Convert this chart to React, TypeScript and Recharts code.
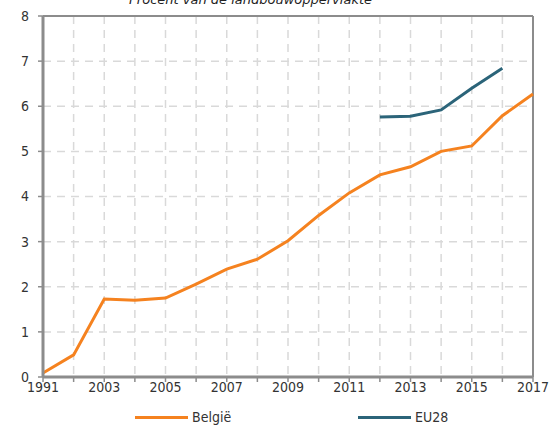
import { LineChart, Line, XAxis, YAxis, CartesianGrid, ReferenceLine, Legend } from "recharts";

const years = ["1991", "2002", "2003", "2004", "2005", "2006", "2007", "2008", "2009", "2010", "2011", "2012", "2013", "2014", "2015", "2016", "2017"];
const belgie = [0.09, 0.49, 1.73, 1.7, 1.75, 2.06, 2.39, 2.61, 3.02, 3.58, 4.08, 4.48, 4.66, 5.0, 5.12, 5.79, 6.27];
const eu28 = [null, null, null, null, null, null, null, null, null, null, null, 5.76, 5.78, 5.92, 6.4, 6.84, null];
const yTicks = [0, 1, 2, 3, 4, 5, 6, 7, 8];

const data = years.map((year, i) => ({ year, belgie: belgie[i], eu28: eu28[i] }));

const ORANGE = "#f5821f";
const TEAL = "#2b6479";
const AXIS = "#8c8c8c";
const FONT = "'DejaVu Sans Condensed', 'DejaVu Sans', sans-serif";

const legendItems = [
  { label: "België", color: ORANGE, x: 135 },
  { label: "EU28", color: TEAL, x: 358 },
];

const ChartLegend = () => (
  <div style={{ position: "relative", width: 550, height: 20 }}>
    {legendItems.map((item) => (
      <div key={item.label} style={{ position: "absolute", left: item.x, top: 0, display: "flex", alignItems: "center", height: 20 }}>
        <span style={{ display: "inline-block", width: 53, height: 3, background: item.color, marginRight: 4 }} />
        <span style={{ fontFamily: FONT, fontSize: 14, color: "#333" }}>{item.label}</span>
      </div>
    ))}
  </div>
);

const App = () => {
  return (
    <div style={{ position: "absolute", left: 0, top: 0, width: 550, height: 427, background: "#fff", overflow: "hidden" }}>
      <div
        style={{
          position: "absolute",
          top: -7,
          left: 129,
          fontFamily: "'DejaVu Sans', sans-serif",
          fontStyle: "italic",
          fontSize: 13,
          lineHeight: "14px",
          color: "#222",
          whiteSpace: "nowrap",
        }}
      >
        Procent van de landbouwoppervlakte
      </div>
      <LineChart width={550} height={427} data={data} margin={{ top: 16, right: 17, left: 0, bottom: 0 }}>
        <CartesianGrid stroke="#d9d9d9" strokeDasharray="8 6" strokeWidth={1.5} />
        <XAxis
          dataKey="year"
          interval={0}
          height={30}
          axisLine={{ stroke: AXIS, strokeWidth: 3 }}
          tickLine={{ stroke: AXIS, strokeWidth: 1.5 }}
          tickSize={5}
          tickMargin={0}
          tickFormatter={(v: string, i: number) => (i % 2 === 0 ? v : "")}
          tick={{ fill: "#333", fontSize: 14, fontFamily: FONT }}
        />
        <YAxis
          domain={[0, 8]}
          ticks={yTicks}
          width={43}
          axisLine={{ stroke: AXIS, strokeWidth: 3 }}
          tickLine={{ stroke: AXIS, strokeWidth: 1.5 }}
          tickSize={5}
          tickMargin={9}
          tick={{ fill: "#333", fontSize: 14, fontFamily: FONT }}
        />
        <ReferenceLine y={8} stroke={AXIS} strokeWidth={2} />
        <ReferenceLine x="2017" stroke={AXIS} strokeWidth={2} />
        <Line type="linear" dataKey="belgie" name="België" stroke={ORANGE} strokeWidth={3} dot={false} isAnimationActive={false} />
        <Line type="linear" dataKey="eu28" name="EU28" stroke={TEAL} strokeWidth={3} dot={false} isAnimationActive={false} />
        <Legend verticalAlign="bottom" height={20} content={() => <ChartLegend />} />
      </LineChart>
    </div>
  );
};

export default App;
